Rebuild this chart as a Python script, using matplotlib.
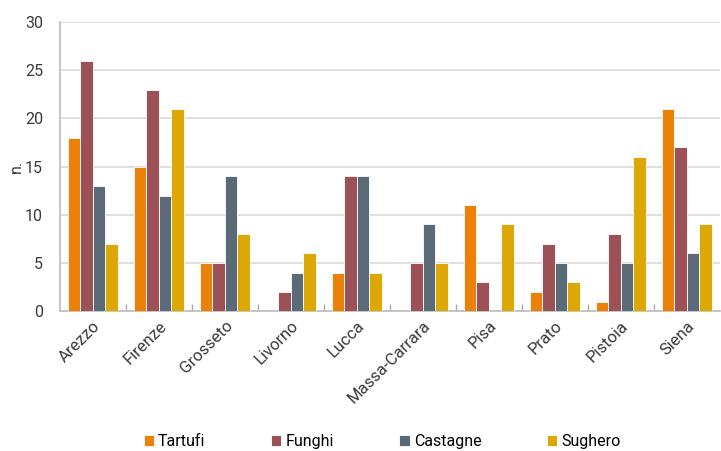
import numpy as np
import matplotlib
matplotlib.use('Agg')
import matplotlib.pyplot as plt
from matplotlib.ticker import FixedLocator

plt.rcParams['font.family'] = ['Roboto', 'DejaVu Sans']

province = ["Arezzo", "Firenze", "Grosseto", "Livorno", "Lucca",
            "Massa-Carrara", "Pisa", "Prato", "Pistoia", "Siena"]
tartufi = [18, 15, 5, 0, 4, 0, 11, 2, 1, 21]
funghi = [26, 23, 5, 2, 14, 5, 3, 7, 8, 17]
castagne = [13, 12, 14, 4, 14, 9, 0, 5, 5, 6]
sughero = [7, 21, 8, 6, 4, 5, 9, 3, 16, 9]

series = [("Tartufi", tartufi, "#EB8108"),
          ("Funghi", funghi, "#9C5156"),
          ("Castagne", castagne, "#5A6A77"),
          ("Sughero", sughero, "#DDA806")]

fig = plt.figure(figsize=(7.21, 4.51), dpi=100)
ax = fig.add_axes([0.083, 0.31, 0.915, 0.641])

x = np.arange(len(province))
w = 0.19
for i, (name, vals, col) in enumerate(series):
    ax.bar(x + (i - 1.5) * w, vals, width=w, color=col, edgecolor="white",
           linewidth=0.6, label=name, zorder=3)

ax.set_xlim(-0.5, len(province) - 0.5)
ax.set_ylim(0, 30)
ax.set_yticks(range(0, 31, 5))
ax.yaxis.grid(True, color="#d9d9d9", linewidth=1.2, zorder=0)
ax.set_axisbelow(True)

ax.set_xticks(x)
ax.set_xticklabels(province, rotation=45, ha="right", rotation_mode="anchor",
                   fontsize=12, color="#3a3a3a")
ax.tick_params(axis="x", length=0, pad=5)
ax.xaxis.set_minor_locator(FixedLocator(np.arange(0.5, len(province) - 0.5, 1)))
ax.tick_params(axis="x", which="minor", direction="in", length=5,
               color="#aaaaaa", width=1)
ax.tick_params(axis="y", length=0, labelsize=11.5, colors="#3a3a3a", pad=12)

for s in ["top", "right"]:
    ax.spines[s].set_visible(False)
for s in ["left", "bottom"]:
    ax.spines[s].set_color("#bbbbbb")
    ax.spines[s].set_linewidth(1.2)

ax.set_ylabel("n.", fontsize=11.5, color="#3a3a3a", labelpad=1)

fig.legend(loc="lower center", bbox_to_anchor=(0.53, -0.027), ncol=4,
           frameon=False, fontsize=11.5, handlelength=0.65, handleheight=0.65,
           handletextpad=0.25, columnspacing=4.1)

fig.savefig("out.png", dpi=100)
